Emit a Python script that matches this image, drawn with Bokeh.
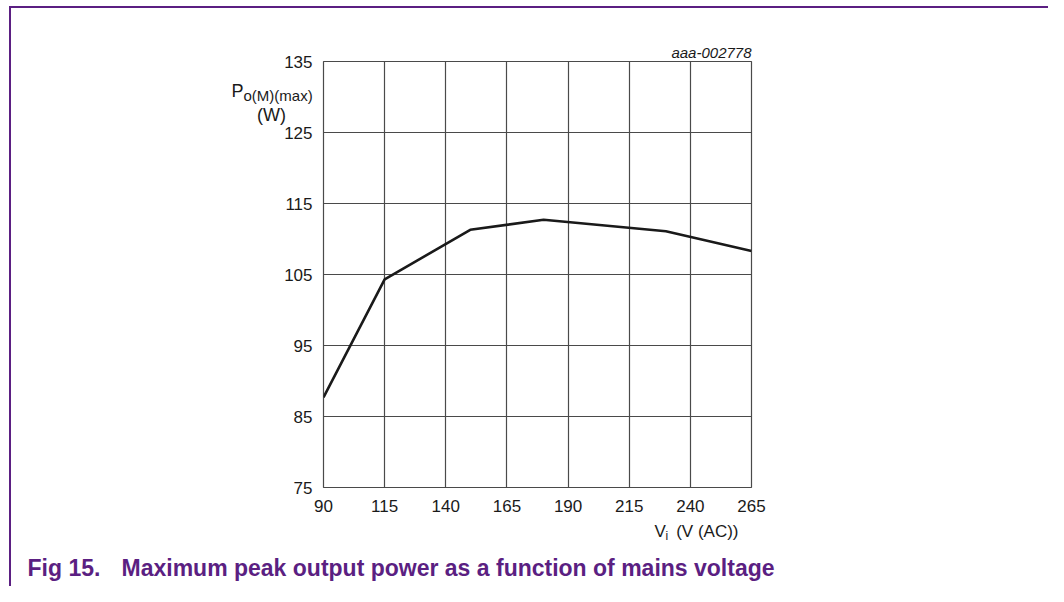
from bokeh.plotting import figure
from bokeh.models import Label, FixedTicker, ColumnDataSource, Range1d
from bokeh.layouts import column, row
from bokeh.embed import file_html
from bokeh.resources import INLINE

# ---- data ----
voltage = [90, 115, 150, 180, 230, 265]
power = [87.7, 104.3, 111.3, 112.7, 111.1, 108.3]
x_ticks = [90, 115, 140, 165, 190, 215, 240, 265]
y_ticks = [75, 85, 95, 105, 115, 125, 135]

PURPLE = "#5b1f82"
GRID = "#4a4a4a"
FONT = "Liberation Sans"

W, H = 1048, 586
ML, MT, FW, FH = 323, 61, 428, 426
MR = W - ML - FW
MB = H - MT - FH

# ---- main chart ----
p = figure(width=W, height=H, x_range=(90, 265), y_range=(75, 135),
           output_backend="svg", toolbar_location=None,
           min_border_left=ML, min_border_right=MR,
           min_border_top=MT, min_border_bottom=MB)
p.styles = {
    "background-image": f"linear-gradient({PURPLE},{PURPLE}), linear-gradient({PURPLE},{PURPLE})",
    "background-size": "calc(100% - 9px) 2px, 2px 100%",
    "background-position": "9px 6px, 9px 6px",
    "background-repeat": "no-repeat",
    "background-color": "white",
}
p.background_fill_color = "white"
p.border_fill_color = None
p.outline_line_color = GRID
p.outline_line_width = 1.2

for ax, ticks in ((p.xaxis, x_ticks), (p.yaxis, y_ticks)):
    ax.ticker = FixedTicker(ticks=ticks)
    ax.axis_line_color = None
    ax.major_tick_line_color = None
    ax.minor_tick_line_color = None
    ax.major_tick_out = 0
    ax.major_tick_in = 0
    ax.major_label_text_font = FONT
    ax.major_label_text_font_size = "17px"
    ax.major_label_text_color = "#1a1a1a"
p.xaxis.major_label_standoff = 12
p.yaxis.major_label_standoff = 11

p.xgrid.ticker = FixedTicker(ticks=x_ticks)
p.ygrid.ticker = FixedTicker(ticks=y_ticks)
for g in (p.xgrid, p.ygrid):
    g.grid_line_color = GRID
    g.grid_line_width = 1.2
    g.grid_line_alpha = 1.0

src = ColumnDataSource(dict(x=voltage, y=power))
p.line("x", "y", source=src, line_color="#1a1a1a", line_width=2.6)

# ---- transparent text overlay (pixel coordinates, y downwards) ----
ov = figure(width=W, height=H, x_range=Range1d(0, W), y_range=Range1d(H, 0),
            x_axis_type=None, y_axis_type=None, output_backend="svg",
            toolbar_location=None, min_border=0)
ov.background_fill_color = None
ov.border_fill_color = None
ov.outline_line_color = None

def lab(text, px, py, size, align="left", style="normal", color="#1a1a1a"):
    ov.add_layout(Label(x=px, y=py, text=text, text_font=FONT,
                        text_font_size=size, text_align=align,
                        text_baseline="alphabetic",
                        text_font_style=style, text_color=color))

# y-axis title
lab("P", 231, 90, "18px")
lab("o(M)(max)", 243, 95, "15px")
lab("(W)", 271, 114, "18px", align="center")
# x-axis title
lab("V", 654, 531, "17px")
lab("i", 665, 535, "12px")
lab("(V (AC))", 738, 531, "17px", align="right")
# figure id
lab("aaa-002778", 751, 52, "15px", align="right", style="italic")
# caption
lab("Fig 15.", 27, 567, "23px", style="bold", color=PURPLE)
lab("Maximum peak output power as a function of mains voltage", 121, 567,
    "23px", style="bold", color=PURPLE)

if "frame_align" in ov.properties():
    p.frame_align = False
    ov.frame_align = False
    ov.styles = {"margin-top": f"-{H}px"}
    layout = column(p, ov, spacing=0)
else:
    wrap = row(ov)
    wrap.styles = {"margin-top": f"-{H}px"}
    layout = column(p, wrap, spacing=0)

open("out.html", "w").write(file_html(layout, INLINE))
